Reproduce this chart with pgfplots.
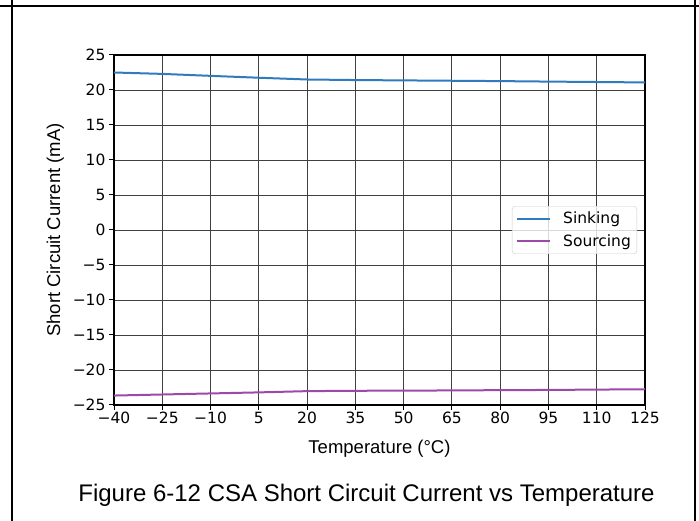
\documentclass[border=0pt]{standalone}
\usepackage{fontspec}
\setmainfont{DejaVu Sans}
\newfontfamily\arial{Liberation Sans}
\usepackage{pgfplots}
\pgfplotsset{compat=1.18}
\definecolor{sink}{HTML}{2F7BBE}
\definecolor{src}{HTML}{9B4AA8}
\begin{document}
\begin{tikzpicture}[x=1pt,y=1pt]
\useasboundingbox (0,0) rectangle (699,521);
\draw[line width=2.2pt] (0,515) -- (699,515);
\draw[line width=2.2pt] (12,0) -- (12,521);
\draw[line width=2.2pt] (695,0) -- (695,521);
\begin{axis}[
  at={(114pt,116pt)}, anchor=south west,
  scale only axis, width=531pt, height=350pt,
  xmin=-40, xmax=125, ymin=-25, ymax=25,
  xtick={-40,-25,...,125}, ytick={-25,-20,...,25},
  xticklabels={−40,−25,−10,5,20,35,50,65,80,95,110,125},
  yticklabels={−25,−20,−15,−10,−5,0,5,10,15,20,25},
  xtick pos=bottom, ytick pos=left,
  grid=major,
  major grid style={black!75, line width=0.9pt},
  axis line style={black, line width=1.1pt},
  tick style={black, line width=1pt},
  tick align=outside, major tick length=5pt,
  tick label style={font=\fontsize{15.5}{17}\selectfont},
  xticklabel style={text height=11.5pt, text depth=0pt, inner ysep=2pt},
  xlabel={\arial\fontsize{18.5}{20}\selectfont Temperature (°C)},
  ylabel={\arial\fontsize{18.5}{20}\selectfont Short Circuit Current (mA)},
  xlabel style={yshift=-11pt},
  ylabel style={yshift=2pt},
  legend style={at={(0.985,0.5)}, anchor=east, draw=black!20, rounded corners=3pt,
    fill=white, fill opacity=0.8, text opacity=1,
    font=\fontsize{15.5}{17}\selectfont, row sep=5pt, inner xsep=4pt, inner ysep=4pt},
  legend cell align=left,
  legend image code/.code={\draw[#1, line width=2pt] (0pt,0pt) -- (33pt,0pt);},
]
\addplot[sink, line width=2pt] coordinates {
(-40,22.5) (-25,22.3) (-10,22.02) (5,21.75) (20,21.5) (35,21.42) (50,21.37) (65,21.32) (80,21.27) (95,21.2) (110,21.14) (125,21.08)};
\addlegendentry{\hspace*{10pt}Sinking}
\addplot[src, line width=2pt] coordinates {
(-40,-23.65) (-25,-23.5) (-10,-23.35) (5,-23.2) (20,-23.02) (35,-22.97) (50,-22.95) (65,-22.92) (80,-22.88) (95,-22.85) (110,-22.8) (125,-22.75)};
\addlegendentry{\hspace*{10pt}Sourcing}
\end{axis}
\node[font=\arial\fontsize{24}{28}\selectfont] at (366.5,26) {Figure 6-12 CSA Short Circuit Current vs Temperature};
\end{tikzpicture}
\end{document}
